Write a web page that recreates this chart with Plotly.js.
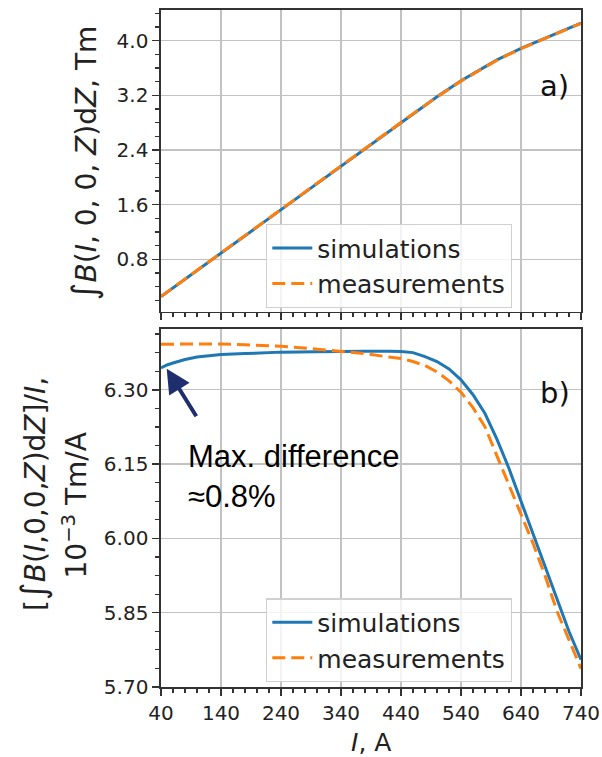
<!DOCTYPE html>
<html>
<head>
<meta charset="utf-8">
<script src="https://cdn.plot.ly/plotly-3.0.1.min.js"></script>
<style>html,body{margin:0;padding:0;background:#fff;}#chart{width:602px;height:757px;}</style>
</head>
<body>
<div id="chart"></div>
<script>
// ---- data ----
// panel a): integral vs current
var currentTop = [40, 100, 140, 200, 240, 300, 340, 400, 440, 500, 540, 600, 640, 700, 740];
var integralSim = [0.254, 0.637, 0.892, 1.275, 1.530, 1.913, 2.169, 2.551, 2.806, 3.179, 3.413, 3.720, 3.888, 4.113, 4.259];
var integralMeas = [0.255, 0.638, 0.893, 1.276, 1.531, 1.914, 2.169, 2.550, 2.804, 3.176, 3.409, 3.715, 3.884, 4.108, 4.254];

// panel b): integral / current (1e-3 Tm/A)
var currentBottom = [40, 50, 60, 80, 100, 120, 140, 180, 240, 300, 340, 380, 420, 440, 460, 480, 500, 520, 540, 560, 580, 600, 620, 640, 660, 680, 700, 720, 740];
var ratioSim = [6.344, 6.350, 6.354, 6.361, 6.366, 6.369, 6.371, 6.373, 6.376, 6.377, 6.378, 6.378, 6.378, 6.3775, 6.375, 6.367, 6.357, 6.342, 6.320, 6.290, 6.252, 6.200, 6.141, 6.075, 6.009, 5.943, 5.876, 5.812, 5.755];
var ratioMeas = [6.392, 6.392, 6.393, 6.393, 6.393, 6.393, 6.3925, 6.391, 6.388, 6.382, 6.378, 6.373, 6.366, 6.363, 6.357, 6.349, 6.336, 6.318, 6.295, 6.264, 6.225, 6.167, 6.107, 6.050, 5.990, 5.925, 5.853, 5.795, 5.737];

var xTickVals = [40, 140, 240, 340, 440, 540, 640, 740];
var seriesNames = ["simulations", "measurements"];

var BLUE = "#1f77b4", ORANGE = "#ff7f0e";
var FONT = "DejaVu Sans, sans-serif";
var DASH = "13px,6px";

var traces = [
  {x: currentTop, y: integralSim, xaxis: "x", yaxis: "y", mode: "lines", name: seriesNames[0],
   line: {color: BLUE, width: 3}, legend: "legend"},
  {x: currentTop, y: integralMeas, xaxis: "x", yaxis: "y", mode: "lines", name: seriesNames[1],
   line: {color: ORANGE, width: 3, dash: DASH}, legend: "legend"},
  {x: currentBottom, y: ratioSim, xaxis: "x2", yaxis: "y2", mode: "lines", name: seriesNames[0],
   line: {color: BLUE, width: 3}, legend: "legend2"},
  {x: currentBottom, y: ratioMeas, xaxis: "x2", yaxis: "y2", mode: "lines", name: seriesNames[1],
   line: {color: ORANGE, width: 3, dash: DASH}, legend: "legend2"}
];

function xAxis(showLabels, anchor) {
  return {
    anchor: anchor, domain: [0, 1], range: [40, 740],
    tickmode: "array", tickvals: xTickVals, ticktext: xTickVals.map(String),
    showticklabels: showLabels, ticks: "outside", ticklen: 7, tickwidth: 1.5, tickcolor: "#333",
    minor: {dtick: 20, tick0: 40, ticks: "outside", ticklen: 4, tickwidth: 1.2, tickcolor: "#333", showgrid: false},
    showgrid: true, gridcolor: "#c2c2c2", gridwidth: 1.4,
    showline: true, linecolor: "#333", linewidth: 1.6, mirror: true, zeroline: false,
    tickfont: {family: FONT, size: 20, color: "#222"}
  };
}

function legendBox(yPos) {
  return {
    x: 0.25, y: yPos, xanchor: "left", yanchor: "top",
    bgcolor: "rgba(255,255,255,0.8)", bordercolor: "#d0d0d0", borderwidth: 1.3,
    font: {family: FONT, size: 25, color: "#222"}, tracegroupgap: 0, itemwidth: 40
  };
}

var layout = {
  width: 602, height: 757,
  margin: {l: 161, r: 21, t: 10, b: 70},
  paper_bgcolor: "#fff", plot_bgcolor: "#fff",
  showlegend: true,
  xaxis: xAxis(false, "y"),
  xaxis2: xAxis(true, "y2"),
  yaxis: {
    anchor: "x", domain: [0.5544, 1], range: [0.033, 4.45],
    tick0: 0.8, dtick: 0.8, tickformat: ".1f",
    ticks: "outside", ticklen: 7, tickwidth: 1.5, tickcolor: "#333",
    minor: {dtick: 0.2, tick0: 0, ticks: "outside", ticklen: 4, tickwidth: 1.2, tickcolor: "#333", showgrid: false},
    showgrid: true, gridcolor: "#c2c2c2", gridwidth: 1.4,
    showline: true, linecolor: "#333", linewidth: 1.6, mirror: true, zeroline: false,
    tickfont: {family: FONT, size: 20, color: "#222"}
  },
  yaxis2: {
    anchor: "x2", domain: [0, 0.5294], range: [5.70, 6.4235],
    tick0: 5.70, dtick: 0.15, tickformat: ".2f",
    ticks: "outside", ticklen: 7, tickwidth: 1.5, tickcolor: "#333",
    minor: {dtick: 0.0375, tick0: 5.70, ticks: "outside", ticklen: 4, tickwidth: 1.2, tickcolor: "#333", showgrid: false},
    showgrid: true, gridcolor: "#c2c2c2", gridwidth: 1.4,
    showline: true, linecolor: "#333", linewidth: 1.6, mirror: true, zeroline: false,
    tickfont: {family: FONT, size: 20, color: "#222"}
  },
  legend: legendBox(0.6839),
  legend2: legendBox(0.131),
  annotations: [
    {xref: "paper", yref: "paper", x: 0.938, y: 0.8877, xanchor: "center", yanchor: "middle",
     text: "a)", showarrow: false, font: {family: FONT, size: 29, color: "#111"}},
    {xref: "paper", yref: "paper", x: 0.938, y: 0.4343, xanchor: "center", yanchor: "middle",
     text: "b)", showarrow: false, font: {family: FONT, size: 29, color: "#111"}},
    {xref: "paper", yref: "paper", x: 0.0595, y: 0.3693, xanchor: "left", yanchor: "top", align: "left",
     text: "Max. difference<br>≈0.8%", showarrow: false,
     font: {family: "Liberation Sans, Arial, sans-serif", size: 31, color: "#000"}},
    {xref: "x2", yref: "y2", x: 49.5, y: 6.3425, ax: 32.6, ay: 52.4, text: " ",
     showarrow: true, arrowhead: 2, arrowsize: 1.2, arrowwidth: 4, arrowcolor: "#1f2f6e"},
    // y-axis titles
    {xref: "paper", yref: "paper", x: -0.183, y: 0.774, xanchor: "center", yanchor: "middle",
     textangle: -90, showarrow: false,
     text: "<span style=\"font-size:34px\">∫</span><i>B</i>(<i>I</i>, 0, 0, <i>Z</i>)d<i>Z</i>, Tm",
     font: {family: FONT, size: 28, color: "#222"}},
    {xref: "paper", yref: "paper", x: -0.305, y: 0.285, xanchor: "center", yanchor: "middle",
     textangle: -90, showarrow: false,
     text: "[<span style=\"font-size:34px\">∫</span><i>B</i>(<i>I</i>,0,0,<i>Z</i>)d<i>Z</i>]/<i>I</i>,",
     font: {family: FONT, size: 28, color: "#222"}},
    {xref: "paper", yref: "paper", x: -0.2036, y: 0.2689, xanchor: "center", yanchor: "middle",
     textangle: -90, showarrow: false,
     text: "10<sup>−3</sup> Tm/A",
     font: {family: FONT, size: 28, color: "#222"}},
    // x-axis title
    {xref: "paper", yref: "paper", x: 0.5, y: -0.082, xanchor: "center", yanchor: "middle",
     showarrow: false, text: "<i>I</i>, A", font: {family: FONT, size: 25, color: "#222"}}
  ]
};

Plotly.newPlot("chart", traces, layout, {staticPlot: true, displayModeBar: false});
</script>
</body>
</html>
